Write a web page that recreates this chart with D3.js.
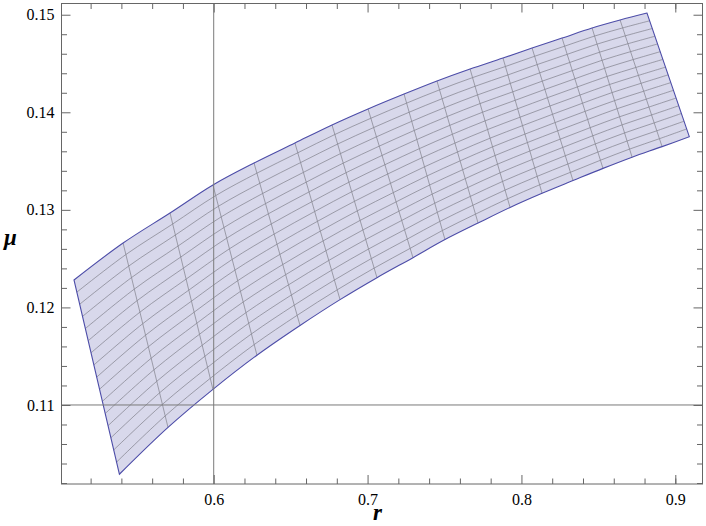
<!DOCTYPE html>
<meta charset="utf-8">
<style>
body { margin: 0; background: #fff; }
.tick line { stroke: #666; }
.frame { fill: none; stroke: #666; stroke-width: 1; }
.band { fill: #d8d8eb; stroke: none; }
.mesh { fill: none; stroke: #7c7c86; stroke-opacity: 0.75; stroke-width: 0.9; }
.edge { fill: none; stroke: #4d4da8; stroke-width: 1.1; }
.axisline { stroke: #7a7a7a; stroke-width: 1; }
</style>
<body></body>
<script src="https://d3js.org/d3.v7.min.js"></script>
<script>

// mesh nodes on the upper boundary of the region (left corner -> right corner)
var topR  = [0.5092, 0.5411, 0.5716, 0.5995, 0.6262, 0.6528, 0.6769, 0.7003, 0.7237,
             0.7451, 0.7666, 0.7880, 0.8069, 0.8264, 0.8459, 0.8641, 0.8816];
var topMu = [0.12281, 0.12660, 0.12968, 0.13255, 0.13480, 0.13685, 0.13870, 0.14034, 0.14187,
             0.14321, 0.14444, 0.14556, 0.14659, 0.14761, 0.14864, 0.14946, 0.15017];
// mesh nodes on the lower boundary
var botR  = [0.5387, 0.5703, 0.5995, 0.6281, 0.6561, 0.6821, 0.7061, 0.7295, 0.7503,
             0.7718, 0.7926, 0.8134, 0.8335, 0.8530, 0.8719, 0.8914, 0.9091];
var botMu = [0.10290, 0.10770, 0.11160, 0.11510, 0.11815, 0.12080, 0.12305, 0.12510, 0.12695,
             0.12865, 0.13025, 0.13170, 0.13300, 0.13425, 0.13540, 0.13648, 0.13750];
var meshSteps = 16;   // mesh intervals from lower to upper boundary

var xTicks = [0.6, 0.7, 0.8, 0.9];
var yTicks = [0.11, 0.12, 0.13, 0.14, 0.15];
var xMinor = [0.52, 0.54, 0.56, 0.58, 0.62, 0.64, 0.66, 0.68, 0.72, 0.74, 0.76, 0.78,
              0.82, 0.84, 0.86, 0.88, 0.90, 0.92];
var yMinor = [0.102, 0.104, 0.106, 0.108, 0.112, 0.114, 0.116, 0.118, 0.122, 0.124, 0.126, 0.128,
              0.132, 0.134, 0.136, 0.138, 0.142, 0.144, 0.146, 0.148, 0.152];
var axesOrigin = [0.6, 0.11];

var serif = "'Liberation Serif', 'Times New Roman', Times, serif";

var margin = {top: 3.5, right: 3.5, bottom: 42, left: 61.5},
    width = 706 - margin.left - margin.right,
    height = 526 - margin.top - margin.bottom;

var x = d3.scaleLinear().domain([0.50108, 0.91767]).range([0, width]),
    y = d3.scaleLinear().domain([0.10190, 0.15115]).range([height, 0]);

var svg = d3.select("body").append("svg")
    .attr("width", 706)
    .attr("height", 526);

var g = svg.append("g")
    .attr("transform", "translate(" + margin.left + "," + margin.top + ")");

g.append("defs").append("clipPath")
    .attr("id", "clip")
  .append("rect")
    .attr("width", width)
    .attr("height", height);

// grid of mesh nodes, row i goes from lower (0) to upper (meshSteps) boundary
var grid = d3.range(meshSteps + 1).map(function(i) {
  var t = i / meshSteps;
  return topR.map(function(d, j) {
    return [botR[j] + (topR[j] - botR[j]) * t, botMu[j] + (topMu[j] - botMu[j]) * t];
  });
});

var smooth = d3.line()
    .x(function(d) { return x(d[0]); })
    .y(function(d) { return y(d[1]); })
    .curve(d3.curveCatmullRom);

var straight = d3.line()
    .x(function(d) { return x(d[0]); })
    .y(function(d) { return y(d[1]); });

// outline: lower edge, right side, upper edge back, left side
var lowerEdge = smooth(grid[0]),
    upperBack = smooth(grid[meshSteps].slice().reverse());
var outlinePath = lowerEdge + "L" + upperBack.slice(1) + "Z";

var plot = g.append("g").attr("clip-path", "url(#clip)");

plot.append("path")
    .attr("class", "band")
    .attr("d", outlinePath);

// lines across the band
plot.selectAll(".hmesh")
    .data(grid.slice(1, meshSteps))
  .enter().append("path")
    .attr("class", "mesh hmesh")
    .attr("d", smooth);

// lines from lower to upper boundary
plot.selectAll(".vmesh")
    .data(d3.range(1, topR.length - 1))
  .enter().append("path")
    .attr("class", "mesh vmesh")
    .attr("d", function(j) { return straight(grid.map(function(row) { return row[j]; })); });

plot.append("path")
    .attr("class", "edge")
    .attr("d", outlinePath);

// axes through (0.6, 0.11)
g.append("line")
    .attr("class", "axisline")
    .attr("x1", x(axesOrigin[0])).attr("x2", x(axesOrigin[0]))
    .attr("y1", 0).attr("y2", height);
g.append("line")
    .attr("class", "axisline")
    .attr("x1", 0).attr("x2", width)
    .attr("y1", y(axesOrigin[1])).attr("y2", y(axesOrigin[1]));

// frame ticks
function ticks(axis, values, size, fmt, pad) {
  return axis.tickValues(values).tickSize(-size).tickPadding(pad).tickFormat(fmt);
}

g.append("g").attr("transform", "translate(0," + height + ")")
    .call(ticks(d3.axisBottom(x), xTicks, 9, d3.format(".1f"), 9.6));
g.append("g").attr("transform", "translate(0," + height + ")")
    .call(ticks(d3.axisBottom(x), xMinor, 5.5, "", 0));
g.append("g")
    .call(ticks(d3.axisTop(x), xTicks, 9, "", 0));
g.append("g")
    .call(ticks(d3.axisTop(x), xMinor, 5.5, "", 0));

g.append("g")
    .call(ticks(d3.axisLeft(y), yTicks, 9, d3.format(".2f"), 7));
g.append("g")
    .call(ticks(d3.axisLeft(y), yMinor, 5.5, "", 0));
g.append("g").attr("transform", "translate(" + width + ",0)")
    .call(ticks(d3.axisRight(y), yTicks, 9, "", 0));
g.append("g").attr("transform", "translate(" + width + ",0)")
    .call(ticks(d3.axisRight(y), yMinor, 5.5, "", 0));

g.selectAll(".domain").remove();
g.selectAll(".tick text")
    .style("font-family", serif)
    .style("font-size", "16px")
    .style("fill", "#000");

g.append("rect")
    .attr("class", "frame")
    .attr("width", width)
    .attr("height", height);

svg.append("text")
    .attr("x", 373)
    .attr("y", 520)
    .style("font-family", serif)
    .style("font-size", "23px")
    .style("font-style", "italic")
    .style("font-weight", "bold")
    .text("r");

svg.append("text")
    .attr("x", 4)
    .attr("y", 245)
    .style("font-family", serif)
    .style("font-size", "23px")
    .style("font-style", "italic")
    .style("font-weight", "bold")
    .text("μ");

</script>
